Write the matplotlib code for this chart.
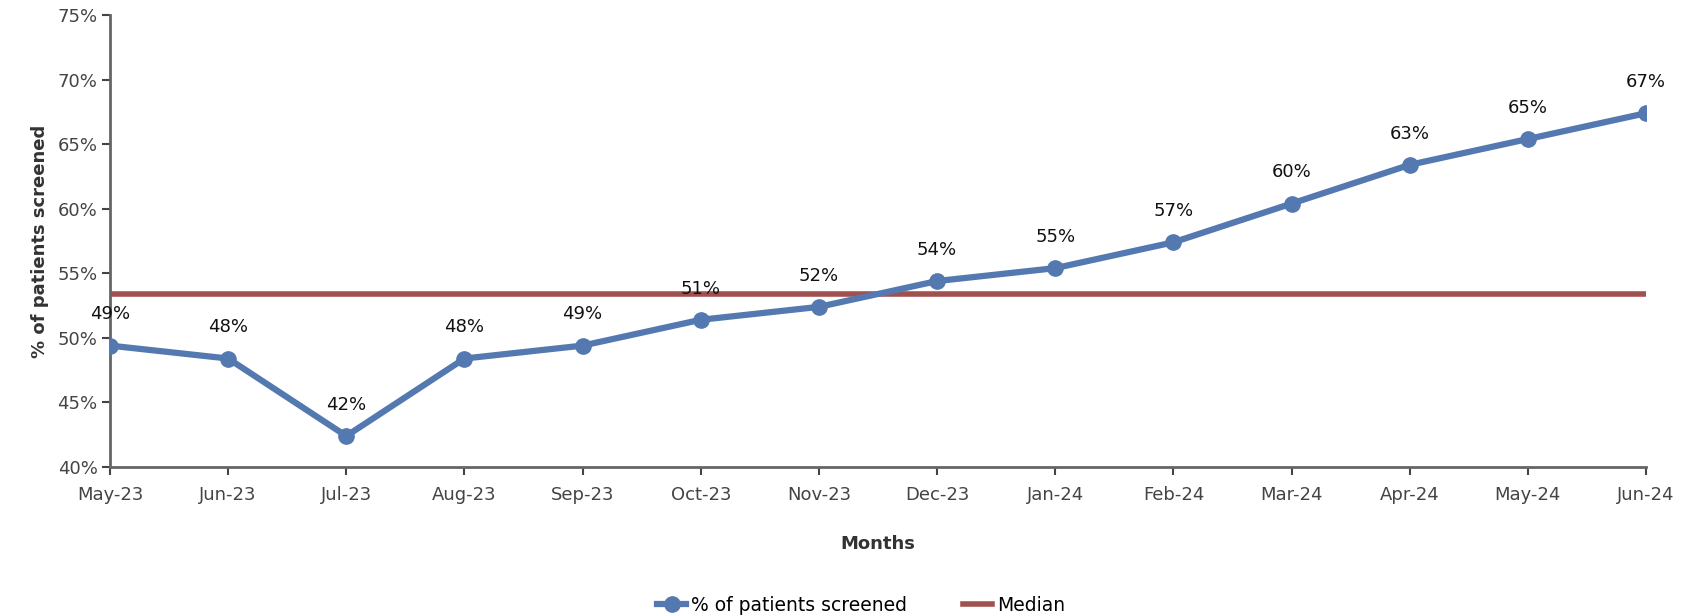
import matplotlib.pyplot as plt
from matplotlib.ticker import FuncFormatter

months = ['May-23', 'Jun-23', 'Jul-23', 'Aug-23', 'Sep-23', 'Oct-23', 'Nov-23',
          'Dec-23', 'Jan-24', 'Feb-24', 'Mar-24', 'Apr-24', 'May-24', 'Jun-24']
screened = [49.4, 48.4, 42.4, 48.4, 49.4, 51.4, 52.4, 54.4, 55.4, 57.4, 60.4, 63.4, 65.4, 67.4]
labels = ['49%', '48%', '42%', '48%', '49%', '51%', '52%', '54%', '55%', '57%',
          '60%', '63%', '65%', '67%']
median = [53.4] * len(months)

plt.rcParams['font.family'] = ['DejaVu Sans']

fig = plt.figure(figsize=(16.89, 6.16), dpi=100)
ax = fig.add_axes([0.0651, 0.2419, 0.9095, 0.7337])

x = list(range(len(months)))
ax.plot(x, screened, color='#5479B0', lw=4.5, marker='o', markersize=11,
        label='% of patients screened', zorder=3)
ax.plot(x, median, color='#A0504F', lw=4, label='Median', zorder=2)

for i, (v, t) in enumerate(zip(screened, labels)):
    ax.annotate(t, (i, v), xytext=(0, 16), textcoords='offset points',
                ha='center', va='bottom', fontsize=13, color='#111111')

ax.set_xlim(0, len(months) - 1)
ax.set_ylim(40, 75)
ax.set_yticks(range(40, 76, 5))
ax.yaxis.set_major_formatter(FuncFormatter(lambda v, p: f'{int(v)}%'))
ax.set_xticks(x)
ax.set_xticklabels(months)
ax.tick_params(labelsize=13, colors='#444444', length=6, width=1.5)
ax.tick_params(axis='x', pad=8)
ax.tick_params(axis='y', direction='out', pad=3)

for s in ['top', 'right']:
    ax.spines[s].set_visible(False)
for s in ['left', 'bottom']:
    ax.spines[s].set_color('#666666')
    ax.spines[s].set_linewidth(2)

ax.set_xlabel('Months', fontsize=13, fontweight='bold', color='#333333', labelpad=22)
ax.set_ylabel('% of patients screened', fontsize=13, fontweight='bold', color='#333333', labelpad=6)

fig.legend(loc='lower center', bbox_to_anchor=(0.51, -0.025), ncol=2, frameon=False,
           fontsize=13.5, handlelength=1.5, handletextpad=0.3, columnspacing=3)

fig.savefig('out.png', dpi=100)
